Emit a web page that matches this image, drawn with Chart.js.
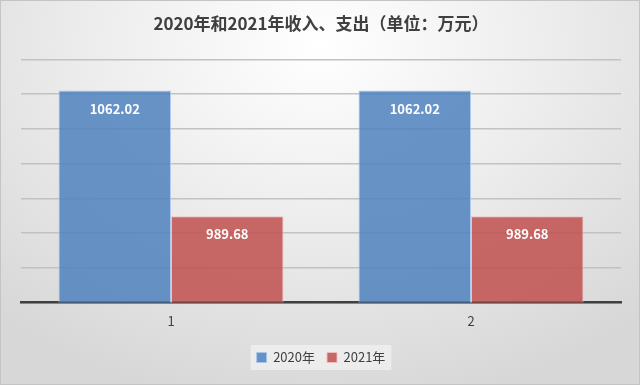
<!DOCTYPE html>
<html>
<head>
<meta charset="utf-8">
<script src="https://cdn.jsdelivr.net/npm/chart.js@4/dist/chart.umd.min.js"></script>
<style>
  html, body { margin: 0; padding: 0; }
  #wrap {
    width: 640px; height: 385px; box-sizing: border-box;
    border: 1px solid #c4c4c4;
    background: radial-gradient(ellipse 75% 95% at 50% 12%, #ffffff 0%, #ececec 50%, #d7d7d7 100%);
  }
</style>
</head>
<body>
<div id="wrap"><canvas id="chart" width="638" height="383"></canvas></div>
<script>
// data
const categories = ['1', '2'];
const values2020 = [1062.02, 1062.02];
const values2021 = [989.68, 989.68];
const seriesNames = ['2020年', '2021年'];

const fontFamily = '"Noto Sans CJK SC", "Noto Sans", sans-serif';

// value labels inside the bars
const barLabels = {
  id: 'barLabels',
  afterDatasetsDraw(chart) {
    const ctx = chart.ctx;
    ctx.save();
    ctx.fillStyle = '#ffffff';
    ctx.font = 'bold 13px ' + fontFamily;
    ctx.textAlign = 'center';
    ctx.textBaseline = 'middle';
    chart.data.datasets.forEach((ds, i) => {
      chart.getDatasetMeta(i).data.forEach((bar, j) => {
        ctx.fillText(ds.data[j].toFixed(2), bar.x, bar.y + 18);
      });
    });
    ctx.restore();
  }
};

// light box behind the legend
const legendBox = {
  id: 'legendBox',
  beforeDraw(chart) {
    const lg = chart.legend;
    if (!lg || !lg.legendHitBoxes || !lg.legendHitBoxes.length) return;
    const boxes = lg.legendHitBoxes;
    const x0 = boxes[0].left - 6;
    const x1 = boxes[boxes.length - 1].left + boxes[boxes.length - 1].width + 6;
    const y0 = boxes[0].top - 6;
    const ctx = chart.ctx;
    ctx.save();
    ctx.fillStyle = 'rgba(240,240,240,0.8)';
    ctx.fillRect(x0, y0, x1 - x0, boxes[0].height + 12);
    ctx.restore();
  }
};

const ctx = document.getElementById('chart').getContext('2d');
const chart = new Chart(ctx, {
  type: 'bar',
  data: {
    labels: categories,
    datasets: [{
      label: seriesNames[0],
      data: values2020,
      backgroundColor: 'rgba(79, 129, 189, 0.85)',
      borderColor: 'rgba(170, 198, 235, 0.9)',
      borderWidth: 1
    }, {
      label: seriesNames[1],
      data: values2021,
      backgroundColor: 'rgba(192, 80, 77, 0.85)',
      borderColor: 'rgba(240, 190, 190, 0.9)',
      borderWidth: 1
    }]
  },
  options: {
    responsive: false,
    animation: false,
    layout: { padding: { left: 20, right: 18, top: 0, bottom: 10 } },
    datasets: { bar: { categoryPercentage: 0.75, barPercentage: 1 } },
    scales: {
      x: {
        grid: { display: false },
        border: { color: '#404040', width: 2.5 },
        ticks: { color: '#404040', font: { size: 13, family: fontFamily }, padding: 3 },
        afterFit(scale) { scale.height += 7; }
      },
      y: {
        min: 940,
        max: 1080,
        ticks: { display: false, stepSize: 20 },
        border: { display: false },
        grid: { color: '#c2c2c2', lineWidth: 1.5, drawTicks: false }
      }
    },
    plugins: {
      title: {
        display: true,
        text: '2020年和2021年收入、支出（单位：万元）',
        color: '#404040',
        font: { size: 17, weight: 'bold', family: fontFamily },
        padding: { top: 12, bottom: 26 }
      },
      legend: {
        position: 'bottom',
        labels: {
          color: '#404040',
          boxWidth: 10,
          boxHeight: 10,
          padding: 12,
          font: { size: 13, family: fontFamily }
        }
      },
      tooltip: { enabled: false }
    }
  },
  plugins: [barLabels, legendBox]
});
</script>
</body>
</html>
